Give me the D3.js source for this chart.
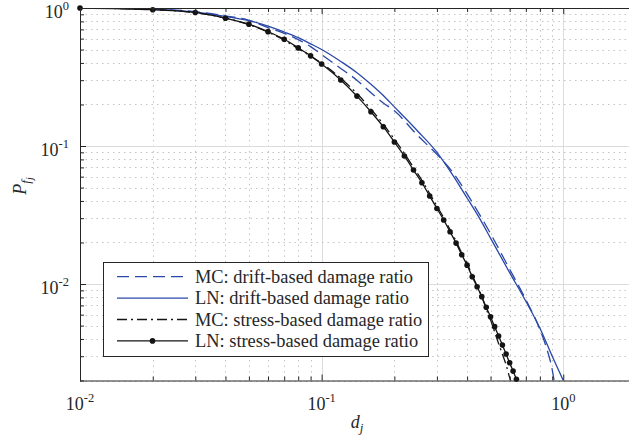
<!DOCTYPE html>
<html>
<head>
<meta charset="utf-8">
<script src="https://cdnjs.cloudflare.com/ajax/libs/d3/7.8.5/d3.min.js"></script>
<style>
  body { margin: 0; background: #fff; }
  svg { display: block; font-family: "Liberation Serif", "Times New Roman", serif; }
</style>
</head>
<body>
<svg id="chart" width="629" height="443"></svg>
<script>
// axis ticks (decades) and their exponent labels
const xMajor = [0.01, 0.1, 1];
const xMajorLabels = ["-2", "-1", "0"];
const yMajor = [0.01, 0.1, 1];
const yMajorLabels = ["-2", "-1", "0"];

// LN: stress-based damage ratio (markers at every point)
const lnStressX = [0.01, 0.02, 0.03, 0.04, 0.05, 0.06, 0.07, 0.08, 0.09, 0.10,
  0.12, 0.14, 0.16, 0.18, 0.20, 0.22, 0.24, 0.26, 0.28, 0.30, 0.32, 0.34, 0.36, 0.38,
  0.40, 0.42, 0.44, 0.46, 0.48, 0.50, 0.52, 0.54, 0.56, 0.58, 0.60, 0.62, 0.64];
const lnStressP = [0.9995, 0.972, 0.928, 0.843, 0.764, 0.674, 0.594, 0.514, 0.450, 0.393,
  0.301, 0.230, 0.177, 0.138, 0.107, 0.0847, 0.067, 0.0542, 0.0434, 0.0353, 0.0291, 0.0239, 0.0198, 0.0163,
  0.0137, 0.0113, 0.00955, 0.0081, 0.00678, 0.0058, 0.00491, 0.0042, 0.00361, 0.00311, 0.00269, 0.00234, 0.00204];

// MC: stress-based damage ratio
const mcStressX = [0.01, 0.02, 0.03, 0.04, 0.05, 0.06, 0.07, 0.08, 0.09, 0.10,
  0.12, 0.14, 0.16, 0.18, 0.20, 0.22, 0.24, 0.26, 0.28, 0.30, 0.32, 0.34, 0.36, 0.38,
  0.40, 0.42, 0.44, 0.46, 0.48, 0.50, 0.52, 0.54, 0.56, 0.58, 0.60, 0.62];
const mcStressP = [0.9995, 0.974, 0.925, 0.845, 0.758, 0.668, 0.585, 0.508, 0.448, 0.398,
  0.310, 0.240, 0.185, 0.144, 0.112, 0.0885, 0.0700, 0.0565, 0.0452, 0.0368, 0.0302, 0.0248, 0.0205, 0.0168,
  0.0141, 0.0116, 0.0097, 0.0081, 0.0066, 0.0055, 0.0045, 0.0037, 0.0031, 0.0026, 0.0021, 0.0018];

// LN: drift-based damage ratio
const lnDriftX = [0.01, 0.015, 0.02, 0.03, 0.04, 0.05, 0.06, 0.07, 0.08, 0.09, 0.10,
  0.12, 0.14, 0.16, 0.18, 0.20, 0.25, 0.30, 0.35, 0.40, 0.45, 0.50, 0.60, 0.70, 0.80, 0.90, 1.00];
const lnDriftP = [0.9995, 0.995, 0.978, 0.935, 0.87, 0.81, 0.74, 0.67, 0.61, 0.55, 0.50,
  0.41, 0.34, 0.28, 0.232, 0.192, 0.128, 0.090, 0.061, 0.042, 0.030, 0.0215, 0.0121, 0.0075, 0.0048, 0.0030, 0.0020];

// MC: drift-based damage ratio
const mcDriftX = [0.01, 0.02, 0.03, 0.04, 0.05, 0.06, 0.07, 0.08, 0.09, 0.10,
  0.12, 0.14, 0.16, 0.18, 0.20, 0.25, 0.30, 0.35, 0.40, 0.45, 0.50, 0.60, 0.70, 0.80, 0.85, 0.90, 0.93];
const mcDriftP = [0.9995, 0.985, 0.94, 0.875, 0.815, 0.72, 0.655, 0.59, 0.525, 0.46,
  0.365, 0.30, 0.243, 0.205, 0.180, 0.119, 0.087, 0.064, 0.045, 0.032, 0.0232, 0.0128, 0.0077, 0.0047, 0.0035, 0.0024, 0.0017];

const legendLabels = [
  "MC: drift-based damage ratio",
  "LN: drift-based damage ratio",
  "MC: stress-based damage ratio",
  "LN: stress-based damage ratio"
];

const blue = "#2a48a8";
const black = "#141414";
const axisColor = "#262626";

const svg = d3.select("#chart");
const x = d3.scaleLog().domain([0.01, 2]).range([80, 636]);
const y = d3.scaleLog().domain([0.002, 1]).range([380.5, 8]);
const [x0, x1] = x.range();
const [y0, y1] = y.range();

svg.append("defs").append("clipPath").attr("id", "plot")
  .append("rect").attr("x", x0).attr("y", y1).attr("width", x1 - x0).attr("height", y0 - y1);

// grid
const allX = x.ticks();
const allY = y.ticks();
const isMajor = (v) => Math.abs(Math.log10(v) - Math.round(Math.log10(v))) < 1e-6;
const grid = svg.append("g");
grid.selectAll(".gx").data(allX).enter().append("line")
  .attr("x1", (d) => Math.round(x(d)) + 0.5).attr("x2", (d) => Math.round(x(d)) + 0.5)
  .attr("y1", y1).attr("y2", y0)
  .attr("stroke", (d) => (isMajor(d) ? "#dcdcdc" : "#c4c4c4"))
  .attr("stroke-dasharray", (d) => (isMajor(d) ? null : "1.5,4"));
grid.selectAll(".gy").data(allY).enter().append("line")
  .attr("y1", (d) => Math.round(y(d)) + 0.5).attr("y2", (d) => Math.round(y(d)) + 0.5)
  .attr("x1", x0).attr("x2", x1)
  .attr("stroke", (d) => (isMajor(d) ? "#dcdcdc" : "#c4c4c4"))
  .attr("stroke-dasharray", (d) => (isMajor(d) ? null : "1.5,4"));

// curves
const line = d3.line().x((d) => x(d[0])).y((d) => y(d[1])).curve(d3.curveMonotoneX);
const curves = svg.append("g").attr("clip-path", "url(#plot)").attr("fill", "none");
const series = [
  { xs: mcDriftX, ps: mcDriftP, color: blue, dash: "12,6" },
  { xs: lnDriftX, ps: lnDriftP, color: blue, dash: null },
  { xs: mcStressX, ps: mcStressP, color: black, dash: "10,4,2,4" },
  { xs: lnStressX, ps: lnStressP, color: black, dash: null }
];
series.forEach((s) => {
  curves.append("path")
    .datum(s.xs.map((v, i) => [v, s.ps[i]]))
    .attr("d", line)
    .attr("stroke", s.color)
    .attr("stroke-width", 1.3)
    .attr("stroke-dasharray", s.dash);
});
svg.append("g").selectAll("circle")
  .data(lnStressX.map((v, i) => [v, lnStressP[i]]))
  .enter().append("circle")
  .attr("cx", (d) => x(d[0])).attr("cy", (d) => y(d[1]))
  .attr("r", 2.8).attr("fill", black);

// axes: inward ticks
const minorX = allX.filter((d) => !isMajor(d));
const minorY = allY.filter((d) => !isMajor(d));
function tickAxis(axis, values, size, transform) {
  const g = svg.append("g").attr("transform", transform)
    .call(axis.tickValues(values).tickSize(size).tickSizeOuter(0).tickFormat(""));
  g.select(".domain").remove();
  g.selectAll(".tick line").attr("stroke", axisColor);
}
tickAxis(d3.axisBottom(x), minorX, -4, `translate(0,${y0})`);
tickAxis(d3.axisBottom(x), xMajor, -6, `translate(0,${y0})`);
tickAxis(d3.axisTop(x), minorX, -4, `translate(0,${y1})`);
tickAxis(d3.axisTop(x), xMajor, -6, `translate(0,${y1})`);
tickAxis(d3.axisLeft(y), minorY, -4, `translate(${x0},0)`);
tickAxis(d3.axisLeft(y), yMajor, -6, `translate(${x0},0)`);

svg.append("rect")
  .attr("x", x0 + 0.5).attr("y", y1 + 0.5)
  .attr("width", x1 - x0).attr("height", y0 - y1)
  .attr("fill", "none").attr("stroke", axisColor).attr("stroke-width", 1);

// tick labels
function powerLabel(g, exp) {
  g.append("tspan").text("10");
  g.append("tspan").attr("dy", -8).attr("font-size", 12.5).text(exp);
}
xMajor.forEach((v, i) => {
  const t = svg.append("text")
    .attr("x", x(v)).attr("y", 410)
    .attr("text-anchor", "middle").attr("font-size", 18).attr("fill", axisColor);
  powerLabel(t, xMajorLabels[i]);
});
yMajor.forEach((v, i) => {
  const t = svg.append("text")
    .attr("x", 69).attr("y", y(v) + 10)
    .attr("text-anchor", "end").attr("font-size", 18).attr("fill", axisColor);
  powerLabel(t, yMajorLabels[i]);
});

// axis titles
const xl = svg.append("text").attr("x", 357).attr("y", 428)
  .attr("text-anchor", "middle").attr("font-size", 18).attr("font-style", "italic").attr("fill", axisColor);
xl.append("tspan").text("d");
xl.append("tspan").attr("dy", 4).attr("font-size", 13).text("j");

const yl = svg.append("text")
  .attr("transform", "translate(26,186) rotate(-90)")
  .attr("text-anchor", "middle").attr("font-size", 18).attr("font-style", "italic").attr("fill", axisColor);
yl.append("tspan").text("P");
yl.append("tspan").attr("dy", 4).attr("font-size", 13).text("f");
yl.append("tspan").attr("dy", 3).attr("font-size", 10).text("j");

// legend
const lg = svg.append("g");
lg.append("rect").attr("x", 103.5).attr("y", 262.5).attr("width", 325).attr("height", 94)
  .attr("fill", "#fff").attr("stroke", axisColor);
series.forEach((s, i) => {
  const ly = 276.7 + i * 21.4;
  lg.append("line").attr("x1", 117).attr("x2", 188).attr("y1", ly).attr("y2", ly)
    .attr("stroke", s.color).attr("stroke-width", 1.3).attr("stroke-dasharray", s.dash);
  if (i === 3) lg.append("circle").attr("cx", 152.5).attr("cy", ly).attr("r", 2.8).attr("fill", black);
  lg.append("text").attr("x", 195).attr("y", ly).attr("dy", "0.33em")
    .attr("font-size", 18.4).attr("fill", axisColor).text(legendLabels[i]);
});
</script>
</body>
</html>
